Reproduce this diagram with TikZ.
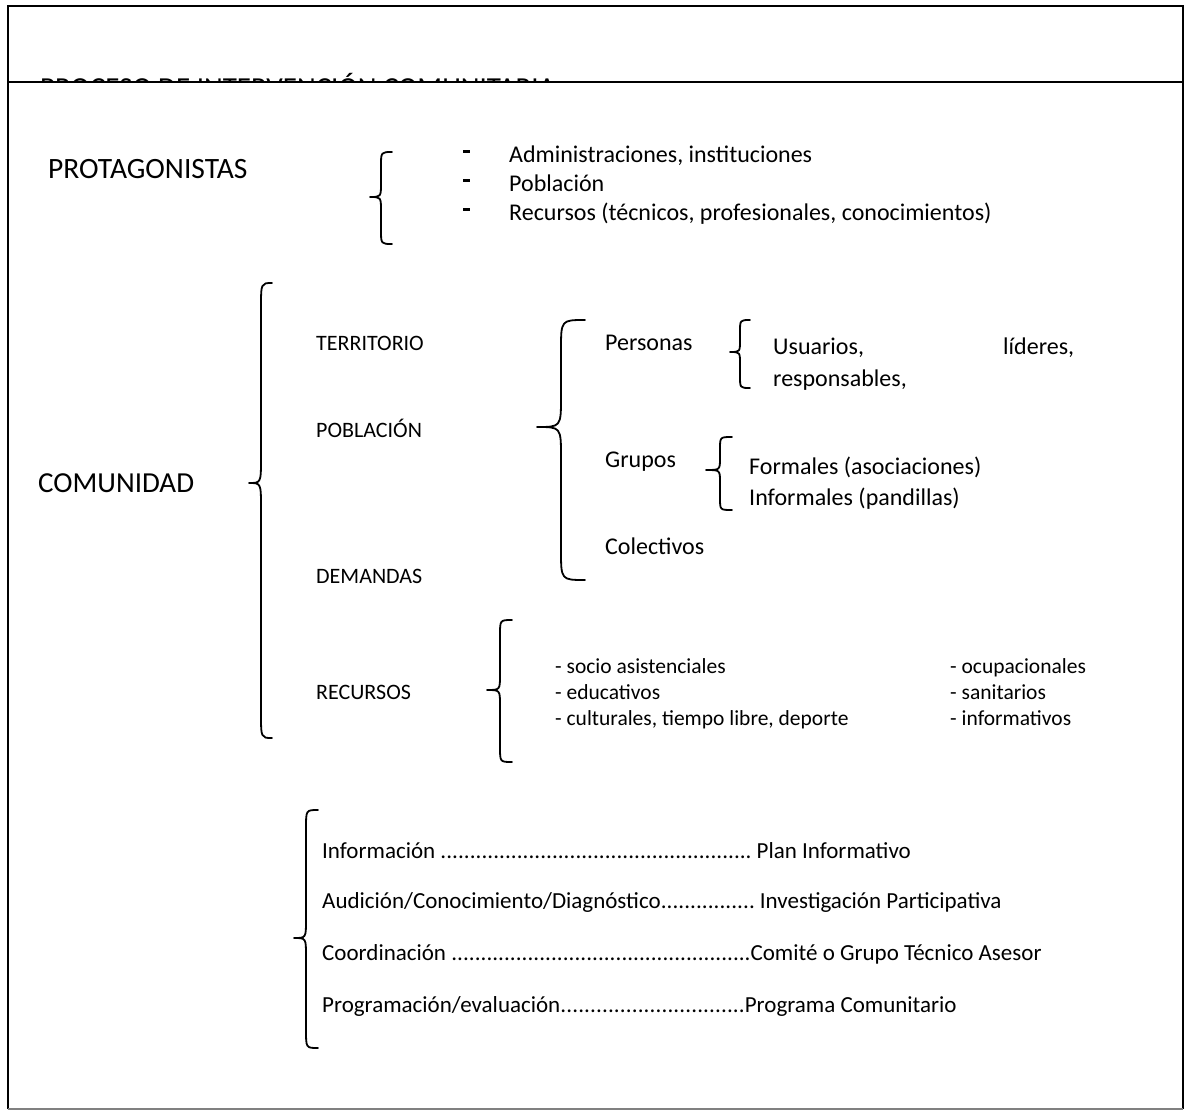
\documentclass[tikz,border=0pt]{standalone}
\usepackage{fontspec}
\setmainfont{Carlito}
\newcommand\dfill{\xleaders\hbox{.}\hfill}
\newcommand\mybrace[7]{% tips x, vertical x, point x, top, mid, bottom, radius
  \draw[brc] (#1,#4) .. controls (#2,#4) .. (#2,#4+#7) -- (#2,#5-#7)
    .. controls (#2,#5) .. (#3,#5) .. controls (#2,#5) .. (#2,#5+#7)
    -- (#2,#6-#7) .. controls (#2,#6) .. (#1,#6);}
\begin{document}
\begin{tikzpicture}[x=1pt,y=-1pt,
  brc/.style={line width=1.8pt, line cap=round, line join=round},
  lbl/.style={anchor=base west, inner sep=0pt},
  huge/.style={lbl, font=\fontsize{29}{34}\selectfont},
  head/.style={lbl, font=\fontsize{29.5}{34}\selectfont},
  mid/.style={lbl, font=\fontsize{22}{26}\selectfont},
  txt/.style={lbl, font=\fontsize{24}{28}\selectfont},
  proc/.style={lbl, font=\fontsize{23}{27}\selectfont},
  sml/.style={lbl, font=\fontsize{21.5}{25}\selectfont},
  bul/.style={fill=black, inner sep=0pt, minimum width=7pt, minimum height=3pt}]
\useasboundingbox (0,0) rectangle (1186,1110);
% frame
\draw[line width=2.2pt] (8,1109) -- (8,6) -- (1183,6) -- (1183,1109);
\draw[line width=1.5pt] (8,82) -- (1183,82);
\draw[line width=1.5pt, gray] (8,1109) -- (1183,1109);
\begin{scope}
  \clip (10,8) rectangle (1181,81.2);
  \node[huge] (title) at (40,97.5) {PROCESO DE INTERVENCIÓN COMUNITARIA};
\end{scope}
% protagonistas
\node[head] (prot) at (48,179) {PROTAGONISTAS};
\mybrace{392}{381}{370}{152}{197}{244}{14}
\node[bul] (b1) at (466,152) {};
\node[bul] (b2) at (466,181) {};
\node[bul] (b3) at (466,210) {};
\node[txt] (p1) at (509,163) {Administraciones, instituciones};
\node[txt] (p2) at (509,192) {Población};
\node[txt] (p3) at (509,221) {Recursos (técnicos, profesionales, conocimientos)};
% comunidad
\node[huge] (com) at (38,492) {COMUNIDAD};
\mybrace{272}{261}{249}{283}{483}{738}{25}
\node[mid] (terr) at (316,350) {TERRITORIO};
\node[mid] (pobl) at (316,437) {POBLACIÓN};
\node[mid] (dem) at (316,583) {DEMANDAS};
\node[mid] (rec) at (316,699) {RECURSOS};
% poblacion
\mybrace{585}{561}{537}{320}{427}{580}{30}
\node[txt] (pers) at (605,350) {Personas};
\mybrace{750}{740}{730}{320}{352}{388}{12}
\node[txt] (usu) at (773,354) {Usuarios,};
\node[txt] (lid) at (1003,354) {líderes,};
\node[txt] (resp) at (773,386) {responsables,};
\node[txt] (grp) at (605,467) {Grupos};
\mybrace{732}{720}{706}{437}{470}{510}{12}
\node[txt] (form) at (749,474) {Formales (asociaciones)};
\node[txt] (inf) at (749,505) {Informales (pandillas)};
\node[txt] (col) at (605,554) {Colectivos};
% recursos
\mybrace{512}{500}{487}{620}{690}{762}{15}
\node[sml] (r1) at (555,673) {- socio asistenciales};
\node[sml] (r2) at (555,699) {- educativos};
\node[sml] (r3) at (555,725) {- culturales, tiempo libre, deporte};
\node[sml] (r4) at (950,673) {- ocupacionales};
\node[sml] (r5) at (950,699) {- sanitarios};
\node[sml] (r6) at (950,725) {- informativos};
% process
\mybrace{318}{306}{294}{810}{938}{1048}{18}
\node[proc] (l1) at (322,858) {\hbox to 430pt{Información \dfill}\hskip 5pt Plan Informativo};
\node[proc] (l2) at (322,908) {\hbox to 433pt{Audición/Conocimiento/Diagnóstico\dfill}\hskip 5pt Investigación Participativa};
\node[proc] (l3) at (322,960) {\hbox to 429pt{Coordinación \dfill}Comité o Grupo Técnico Asesor};
\node[proc] (l4) at (322,1012) {\hbox to 423pt{Programación/evaluación\dfill}Programa Comunitario};
\end{tikzpicture}
\end{document}
